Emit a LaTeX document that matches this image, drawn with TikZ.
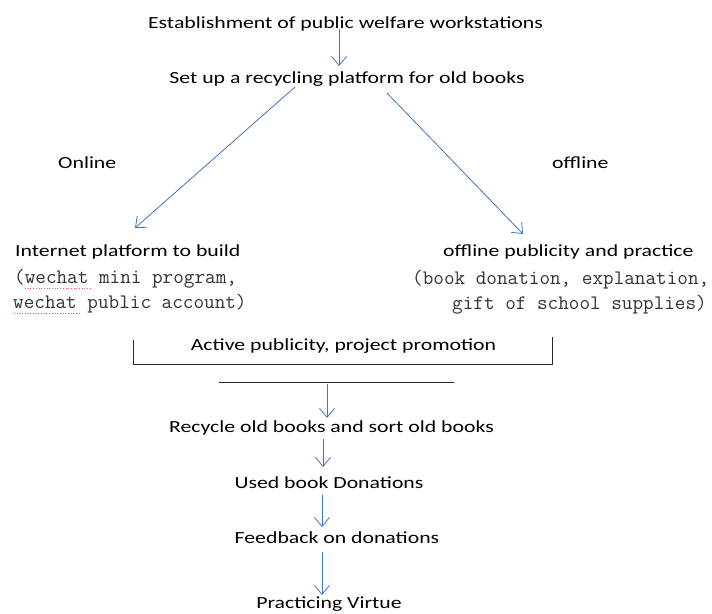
\documentclass[tikz,border=0pt]{standalone}
\usepackage{fontspec}
\setmainfont{Carlito}
\newfontfamily\calib[FakeStretch=1.28]{Carlito}
\newfontfamily\monof{Latin Modern Mono}
\usetikzlibrary{arrows.meta}
\definecolor{arrowblue}{HTML}{4472C4}
\definecolor{squig}{HTML}{E06060}
\tikzset{
  x=1pt, y=-1pt,
  lbl/.style={inner sep=0pt, anchor=base, font=\calib\fontsize{17}{20}\selectfont},
  lblw/.style={inner sep=0pt, anchor=base west, font=\calib\fontsize{17}{20}\selectfont},
  mono/.style={inner sep=0pt, anchor=base west, font=\monof\fontsize{20.6}{22}\selectfont, text=black!80},
  flow/.style={draw=arrowblue, line width=0.8pt, -{Straight Barb[length=9pt,width=15pt,line width=0.8pt]}},
  rule/.style={draw=black!85, line width=0.8pt},
  spell/.style={draw=squig, line width=0.7pt, dotted}
}
\begin{document}
\begin{tikzpicture}
\useasboundingbox[fill=white] (0,0) rectangle (712,613);
\node[lbl] (est) at (345.5,28) {Establishment of public welfare workstations};
\node[lbl] (setup) at (347,83) {Set up a recycling platform for old books};
\node[lblw] (online) at (58,168) {Online};
\node[lblw] (offline) at (552,168) {offline};
\node[lblw] (inet) at (15,256) {Internet platform to build};
\node[mono] (inet1) at (14,283) {(wechat mini program,};
\node[mono] (inet2) at (13,308) {wechat public account)};
\node[lblw] (offp) at (443,256) {offline publicity and practice};
\node[mono] (off1) at (412,284) {(book donation, explanation,};
\node[mono] (off2) at (452,309) {gift of school supplies)};
\node[lbl] (active) at (343.5,350) {Active publicity, project promotion};
\node[lbl] (recycle) at (331.5,432) {Recycle old books and sort old books};
\node[lbl] (used) at (329,488) {Used book Donations};
\node[lbl] (feed) at (337,543) {Feedback on donations};
\node[lbl] (virtue) at (329,608.5) {Practicing Virtue};

\coordinate (a1s) at (339,29); \coordinate (a1e) at (339,66);
\coordinate (l1s) at (295,87); \coordinate (l1e) at (135,228);
\coordinate (r1s) at (387,93); \coordinate (r1e) at (523,234);
\coordinate (bl1) at (133,340); \coordinate (bl2) at (133,364);
\coordinate (br1) at (552,337); \coordinate (br2) at (552,364);
\coordinate (hl1) at (219,382); \coordinate (hl2) at (454,382);
\coordinate (a2s) at (327,384); \coordinate (a2e) at (327,418);
\coordinate (a3s) at (323,439); \coordinate (a3e) at (323,467);
\coordinate (a4s) at (322,495); \coordinate (a4e) at (322,527);
\coordinate (a5s) at (322,552); \coordinate (a5e) at (322,595);

\draw[flow] (a1s) -- (a1e);
\draw[flow] (l1s) -- (l1e);
\draw[flow] (r1s) -- (r1e);
\draw[rule] (bl1) -- (bl2) -- (br2) -- (br1);
\draw[rule] (hl1) -- (hl2);
\draw[flow] (a2s) -- (a2e);
\draw[flow] (a3s) -- (a3e);
\draw[flow] (a4s) -- (a4e);
\draw[flow] (a5s) -- (a5e);

\coordinate (s1a) at (25,288); \coordinate (s1b) at (92,288);
\coordinate (s2a) at (14,313); \coordinate (s2b) at (80,313);
\draw[spell] (s1a) -- (s1b);
\draw[spell] (s2a) -- (s2b);
\end{tikzpicture}
\end{document}
